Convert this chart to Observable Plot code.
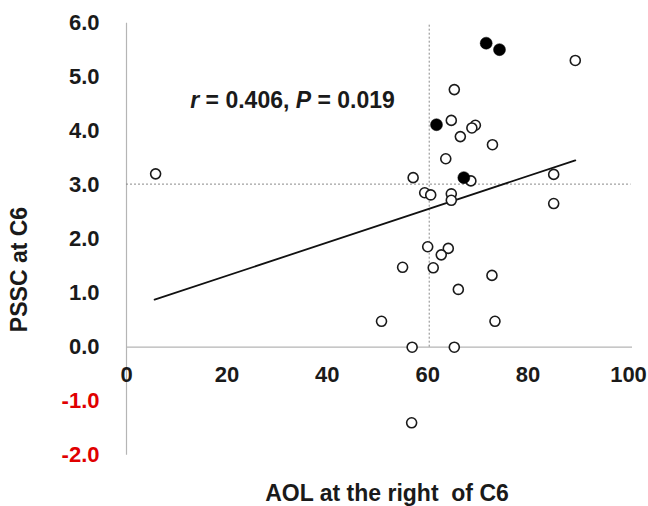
<!DOCTYPE html>
<html>
<head>
<meta charset="utf-8">
<script src="https://cdn.jsdelivr.net/npm/d3@7"></script>
<script src="https://cdn.jsdelivr.net/npm/@observablehq/plot@0.6"></script>
<style>
  html, body { margin: 0; padding: 0; background: #fff; }
  svg { display: block; }
</style>
</head>
<body>
<div id="chart"></div>
<script>
// Open circles
const openX = [5.8, 89.4, 65.3, 64.7, 69.5, 68.8, 66.5, 72.9, 63.6, 68.6, 57.1, 85.1, 85.1, 59.4, 60.6, 64.7, 64.7, 60.0, 64.1, 62.7, 55.0, 61.1, 72.8, 66.1, 50.8, 73.4, 56.9, 65.3, 56.8];
const openY = [3.21, 5.31, 4.77, 4.20, 4.11, 4.06, 3.90, 3.75, 3.49, 3.08, 3.14, 3.20, 2.66, 2.86, 2.82, 2.84, 2.72, 1.86, 1.83, 1.71, 1.48, 1.47, 1.33, 1.07, 0.48, 0.48, 0.0, 0.0, -1.40];
// Filled circles
const filledX = [71.65, 74.3, 61.75, 67.2];
const filledY = [5.63, 5.51, 4.12, 3.14];
// Regression line
const fitX = [5.6, 89.4];
const fitY = [0.88, 3.46];
// Reference (dashed) lines
const refX = [60.3];
const refY = [3.02];
// Ticks
const xTicks = [0, 20, 40, 60, 80, 100];
const yTicksPos = [0, 1, 2, 3, 4, 5, 6];
const yTicksNeg = [-2, -1];
// Texts
const xTitle = "AOL at the right  of C6";
const yTitle = "PSSC at C6";
const annParts = [["r", true], [" = 0.406, ", false], ["P", true], [" = 0.019", false]];
const annPos = {x: 12.7, y: 4.57};

const openData = openX.map((x, i) => ({x, y: openY[i]}));
const filledData = filledX.map((x, i) => ({x, y: filledY[i]}));
const fitData = fitX.map((x, i) => ({x, y: fitY[i]}));

const font = "'Liberation Sans', Arial, sans-serif";
const fmt = d => d.toFixed(1);

const chart = Plot.plot({
  width: 648,
  height: 506,
  marginLeft: 126,
  marginRight: 20,
  marginTop: 22.7,
  marginBottom: 51.3,
  style: {fontFamily: font, background: "#fff", color: "#111"},
  x: {domain: [0, 100], axis: null},
  y: {domain: [-2, 6], axis: null},
  marks: [
    // axis lines
    Plot.ruleX([0], {y1: () => -2, y2: () => 6, stroke: "#b5b5b5", strokeWidth: 1.2}),
    Plot.ruleY([0], {x1: () => 0, x2: () => 100.8, stroke: "#b5b5b5", strokeWidth: 1.2}),
    // dashed reference lines
    Plot.ruleX(refX, {x: d => d, y1: () => 0, y2: () => 6, stroke: "#8a8a8a", strokeWidth: 1, strokeDasharray: "2,2"}),
    Plot.ruleY(refY, {y: d => d, x1: () => 0, x2: () => 100.5, stroke: "#8a8a8a", strokeWidth: 1, strokeDasharray: "2,2"}),
    // regression line
    Plot.line(fitData, {x: "x", y: "y", stroke: "#111", strokeWidth: 1.8}),
    // points
    Plot.dot(openData, {x: "x", y: "y", r: 5, stroke: "#1a1a1a", strokeWidth: 1.6, fill: "#fff"}),
    Plot.dot(filledData, {x: "x", y: "y", r: 6, fill: "#000", stroke: "#000", strokeWidth: 0.5}),
    // y tick labels
    Plot.axisY(yTicksPos, {tickSize: 0, tickPadding: 27, fontSize: 22, fontWeight: "bold", tickFormat: fmt, fill: "#1a1a1a", label: null}),
    Plot.axisY(yTicksNeg, {tickSize: 0, tickPadding: 27, fontSize: 22, fontWeight: "bold", tickFormat: fmt, fill: "#e00000", label: null}),
    // x tick labels at y = 0
    Plot.text(xTicks, {x: d => d, y: () => 0, dy: 28, text: d => String(d), fontSize: 22, fontWeight: "bold", fill: "#1a1a1a"}),
    // annotation
    Plot.text([annPos], {x: "x", y: "y", text: () => annParts.map(p => p[0]).join(""), textAnchor: "start", fontSize: 23, fontWeight: "bold", fill: "#1a1a1a", className: "ann"}),
    // x axis title
    Plot.text([xTitle], {frameAnchor: "bottom", dx: 9.5, dy: 46, lineAnchor: "bottom", text: d => d, fontSize: 23, fontWeight: "bold", fill: "#1a1a1a"})
  ]
});

// italic r and P in annotation
d3.select(chart).selectAll(".ann text").each(function() {
  const t = d3.select(this);
  t.text(null);
  annParts.forEach(([s, it]) => {
    t.append("tspan").attr("font-style", it ? "italic" : null).text(s);
  });
});

// y axis title (rotated)
d3.select(chart).append("text")
  .attr("transform", "translate(26.5,269.5) rotate(-90)")
  .attr("text-anchor", "middle")
  .attr("font-family", font)
  .attr("font-size", 23)
  .attr("font-weight", "bold")
  .attr("fill", "#1a1a1a")
  .text(yTitle);

document.getElementById("chart").appendChild(chart);
</script>
</body>
</html>
